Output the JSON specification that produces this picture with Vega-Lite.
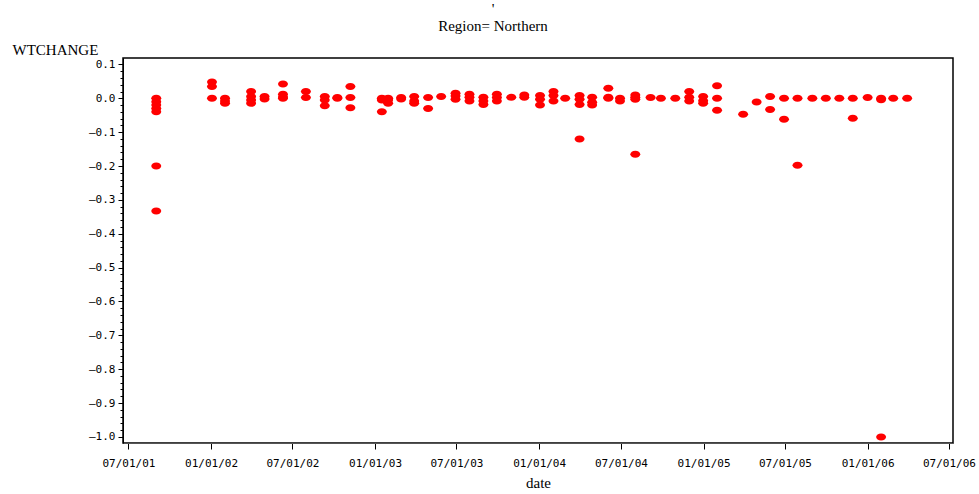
{
  "$schema": "https://vega.github.io/schema/vega-lite/v6.json",
  "width": 830,
  "height": 385,
  "autosize": "none",
  "padding": {"left": 123, "top": 58, "right": 26, "bottom": 51},
  "background": "white",
  "title": {
    "text": ["'", "Region= Northern"],
    "font": "Liberation Serif",
    "fontSize": 15,
    "fontWeight": "normal",
    "color": "black",
    "lineHeight": 17,
    "anchor": "middle",
    "dx": -45,
    "offset": 8
  },
  "data": {
    "values": [
      {"date": "2001-09-01", "WTCHANGE": 0.0},
      {"date": "2001-09-01", "WTCHANGE": -0.01},
      {"date": "2001-09-01", "WTCHANGE": -0.02},
      {"date": "2001-09-01", "WTCHANGE": -0.03},
      {"date": "2001-09-01", "WTCHANGE": -0.04},
      {"date": "2001-09-01", "WTCHANGE": -0.2},
      {"date": "2001-09-01", "WTCHANGE": -0.333},
      {"date": "2002-01-03", "WTCHANGE": 0.048},
      {"date": "2002-01-03", "WTCHANGE": 0.035},
      {"date": "2002-01-03", "WTCHANGE": 0.0},
      {"date": "2002-02-01", "WTCHANGE": 0.0},
      {"date": "2002-02-01", "WTCHANGE": -0.008},
      {"date": "2002-02-01", "WTCHANGE": -0.015},
      {"date": "2002-03-31", "WTCHANGE": 0.02},
      {"date": "2002-03-31", "WTCHANGE": 0.005},
      {"date": "2002-03-31", "WTCHANGE": -0.005},
      {"date": "2002-03-31", "WTCHANGE": -0.015},
      {"date": "2002-04-30", "WTCHANGE": 0.005},
      {"date": "2002-04-30", "WTCHANGE": -0.002},
      {"date": "2002-06-10", "WTCHANGE": 0.042},
      {"date": "2002-06-10", "WTCHANGE": 0.012},
      {"date": "2002-06-10", "WTCHANGE": 0.004},
      {"date": "2002-06-10", "WTCHANGE": 0.0},
      {"date": "2002-07-31", "WTCHANGE": 0.02},
      {"date": "2002-07-31", "WTCHANGE": 0.002},
      {"date": "2002-09-11", "WTCHANGE": 0.005},
      {"date": "2002-09-11", "WTCHANGE": -0.005},
      {"date": "2002-09-11", "WTCHANGE": -0.022},
      {"date": "2002-10-09", "WTCHANGE": 0.002},
      {"date": "2002-10-09", "WTCHANGE": 0.0},
      {"date": "2002-11-07", "WTCHANGE": 0.035},
      {"date": "2002-11-07", "WTCHANGE": 0.002},
      {"date": "2002-11-07", "WTCHANGE": -0.028},
      {"date": "2003-01-16", "WTCHANGE": 0.0},
      {"date": "2003-01-16", "WTCHANGE": -0.005},
      {"date": "2003-01-16", "WTCHANGE": -0.04},
      {"date": "2003-01-30", "WTCHANGE": 0.0},
      {"date": "2003-01-30", "WTCHANGE": -0.005},
      {"date": "2003-01-30", "WTCHANGE": -0.015},
      {"date": "2003-02-28", "WTCHANGE": 0.002},
      {"date": "2003-02-28", "WTCHANGE": -0.002},
      {"date": "2003-03-29", "WTCHANGE": 0.005},
      {"date": "2003-03-29", "WTCHANGE": -0.008},
      {"date": "2003-03-29", "WTCHANGE": -0.015},
      {"date": "2003-04-29", "WTCHANGE": 0.002},
      {"date": "2003-04-29", "WTCHANGE": -0.03},
      {"date": "2003-05-28", "WTCHANGE": 0.005},
      {"date": "2003-06-29", "WTCHANGE": 0.015},
      {"date": "2003-06-29", "WTCHANGE": 0.007},
      {"date": "2003-06-29", "WTCHANGE": -0.003},
      {"date": "2003-07-30", "WTCHANGE": 0.012},
      {"date": "2003-07-30", "WTCHANGE": 0.003},
      {"date": "2003-07-30", "WTCHANGE": -0.008},
      {"date": "2003-08-30", "WTCHANGE": 0.003},
      {"date": "2003-08-30", "WTCHANGE": -0.008},
      {"date": "2003-08-30", "WTCHANGE": -0.018},
      {"date": "2003-09-29", "WTCHANGE": 0.012},
      {"date": "2003-09-29", "WTCHANGE": 0.002},
      {"date": "2003-09-29", "WTCHANGE": -0.008},
      {"date": "2003-10-31", "WTCHANGE": 0.003},
      {"date": "2003-11-29", "WTCHANGE": 0.01},
      {"date": "2003-11-29", "WTCHANGE": 0.003},
      {"date": "2004-01-03", "WTCHANGE": 0.008},
      {"date": "2004-01-03", "WTCHANGE": -0.003},
      {"date": "2004-01-03", "WTCHANGE": -0.02},
      {"date": "2004-02-02", "WTCHANGE": 0.02},
      {"date": "2004-02-02", "WTCHANGE": 0.008},
      {"date": "2004-02-02", "WTCHANGE": -0.008},
      {"date": "2004-02-28", "WTCHANGE": 0.0},
      {"date": "2004-03-31", "WTCHANGE": 0.008},
      {"date": "2004-03-31", "WTCHANGE": -0.003},
      {"date": "2004-03-31", "WTCHANGE": -0.018},
      {"date": "2004-03-31", "WTCHANGE": -0.12},
      {"date": "2004-04-28", "WTCHANGE": 0.003},
      {"date": "2004-04-28", "WTCHANGE": -0.012},
      {"date": "2004-04-28", "WTCHANGE": -0.02},
      {"date": "2004-06-03", "WTCHANGE": 0.03},
      {"date": "2004-06-03", "WTCHANGE": 0.003},
      {"date": "2004-06-03", "WTCHANGE": 0.0},
      {"date": "2004-06-29", "WTCHANGE": 0.0},
      {"date": "2004-06-29", "WTCHANGE": -0.008},
      {"date": "2004-08-02", "WTCHANGE": 0.01},
      {"date": "2004-08-02", "WTCHANGE": 0.003},
      {"date": "2004-08-02", "WTCHANGE": -0.003},
      {"date": "2004-08-02", "WTCHANGE": -0.165},
      {"date": "2004-09-05", "WTCHANGE": 0.002},
      {"date": "2004-09-28", "WTCHANGE": 0.0},
      {"date": "2004-10-30", "WTCHANGE": 0.0},
      {"date": "2004-11-30", "WTCHANGE": 0.02},
      {"date": "2004-11-30", "WTCHANGE": 0.003},
      {"date": "2004-11-30", "WTCHANGE": -0.008},
      {"date": "2004-12-31", "WTCHANGE": 0.005},
      {"date": "2004-12-31", "WTCHANGE": -0.007},
      {"date": "2004-12-31", "WTCHANGE": -0.015},
      {"date": "2005-01-31", "WTCHANGE": 0.037},
      {"date": "2005-01-31", "WTCHANGE": 0.0},
      {"date": "2005-01-31", "WTCHANGE": -0.035},
      {"date": "2005-03-30", "WTCHANGE": -0.047},
      {"date": "2005-04-29", "WTCHANGE": -0.011},
      {"date": "2005-05-29", "WTCHANGE": 0.005},
      {"date": "2005-05-29", "WTCHANGE": -0.033},
      {"date": "2005-06-29", "WTCHANGE": 0.0},
      {"date": "2005-06-29", "WTCHANGE": -0.062},
      {"date": "2005-07-29", "WTCHANGE": 0.0},
      {"date": "2005-07-29", "WTCHANGE": -0.198},
      {"date": "2005-08-31", "WTCHANGE": 0.0},
      {"date": "2005-09-30", "WTCHANGE": 0.0},
      {"date": "2005-10-30", "WTCHANGE": 0.0},
      {"date": "2005-11-29", "WTCHANGE": 0.0},
      {"date": "2005-11-29", "WTCHANGE": -0.059},
      {"date": "2006-01-01", "WTCHANGE": 0.002},
      {"date": "2006-01-31", "WTCHANGE": 0.0},
      {"date": "2006-01-31", "WTCHANGE": -0.004},
      {"date": "2006-01-31", "WTCHANGE": -1.0},
      {"date": "2006-02-27", "WTCHANGE": 0.0},
      {"date": "2006-03-30", "WTCHANGE": 0.0}
    ]
  },
  "mark": {
    "type": "point",
    "filled": true,
    "color": "#ff0000",
    "opacity": 1,
    "size": 100,
    "strokeWidth": 0,
    "shape": "M-1,0A1,0.7,0,1,0,1,0A1,0.7,0,1,0,-1,0Z"
  },
  "encoding": {
    "x": {
      "field": "date",
      "type": "temporal",
      "scale": {
        "type": "utc",
        "domain": [
          {"year": 2001, "month": 6, "date": 19, "utc": true},
          {"year": 2006, "month": 7, "date": 10, "utc": true}
        ]
      },
      "axis": {
        "values": [
          {"year": 2001, "month": 7, "date": 1, "utc": true},
          {"year": 2002, "month": 1, "date": 1, "utc": true},
          {"year": 2002, "month": 7, "date": 1, "utc": true},
          {"year": 2003, "month": 1, "date": 1, "utc": true},
          {"year": 2003, "month": 7, "date": 1, "utc": true},
          {"year": 2004, "month": 1, "date": 1, "utc": true},
          {"year": 2004, "month": 7, "date": 1, "utc": true},
          {"year": 2005, "month": 1, "date": 1, "utc": true},
          {"year": 2005, "month": 7, "date": 1, "utc": true},
          {"year": 2006, "month": 1, "date": 1, "utc": true},
          {"year": 2006, "month": 7, "date": 1, "utc": true}
        ],
        "format": "%m/%d/%y",
        "title": "date",
        "titleFont": "Liberation Serif",
        "titleFontSize": 15,
        "titleFontWeight": "normal",
        "titleColor": "black",
        "titleBaseline": "alphabetic",
        "titleY": 44,
        "labelFont": "DejaVu Sans Mono",
        "labelFontSize": 11,
        "labelColor": "black",
        "labelPadding": 8,
        "labelFlush": false,
        "labelOverlap": false,
        "tickSize": 6,
        "tickColor": "black",
        "domainColor": "#555555",
        "grid": false
      }
    },
    "y": {
      "field": "WTCHANGE",
      "type": "quantitative",
      "scale": {"domain": [-1.018, 0.119], "nice": false, "zero": false},
      "axis": {
        "values": [0.1, 0.08, 0.06, 0.04, 0.02, 0, -0.02, -0.04, -0.06, -0.08, -0.1, -0.12, -0.14, -0.16, -0.18, -0.2, -0.22, -0.24, -0.26, -0.28, -0.3, -0.32, -0.34, -0.36, -0.38, -0.4, -0.42, -0.44, -0.46, -0.48, -0.5, -0.52, -0.54, -0.56, -0.58, -0.6, -0.62, -0.64, -0.66, -0.68, -0.7, -0.72, -0.74, -0.76, -0.78, -0.8, -0.82, -0.84, -0.86, -0.88, -0.9, -0.92, -0.94, -0.96, -0.98, -1.0],
        "labelExpr": "abs(datum.value*10 - round(datum.value*10)) < 0.01 ? ((datum.value < -0.001 ? '—' : '') + format(abs(datum.value), '.1f')) : ''",
        "tickSize": {"condition": {"test": "abs(datum.value*10 - round(datum.value*10)) < 0.01", "value": 5}, "value": 3},
        "title": "WTCHANGE",
        "titleAngle": 0,
        "titleAlign": "left",
        "titleBaseline": "alphabetic",
        "titleX": -111,
        "titleY": -4,
        "titleFont": "Liberation Serif",
        "titleFontSize": 15,
        "titleFontWeight": "normal",
        "titleColor": "black",
        "labelFont": "DejaVu Sans Mono",
        "labelFontSize": 11,
        "labelColor": "black",
        "labelPadding": 3,
        "labelOverlap": false,
        "labelFlush": false,
        "tickColor": "black",
        "domainColor": "black",
        "grid": false
      }
    }
  },
  "config": {
    "view": {"stroke": "black", "strokeWidth": 1.5}
  }
}
